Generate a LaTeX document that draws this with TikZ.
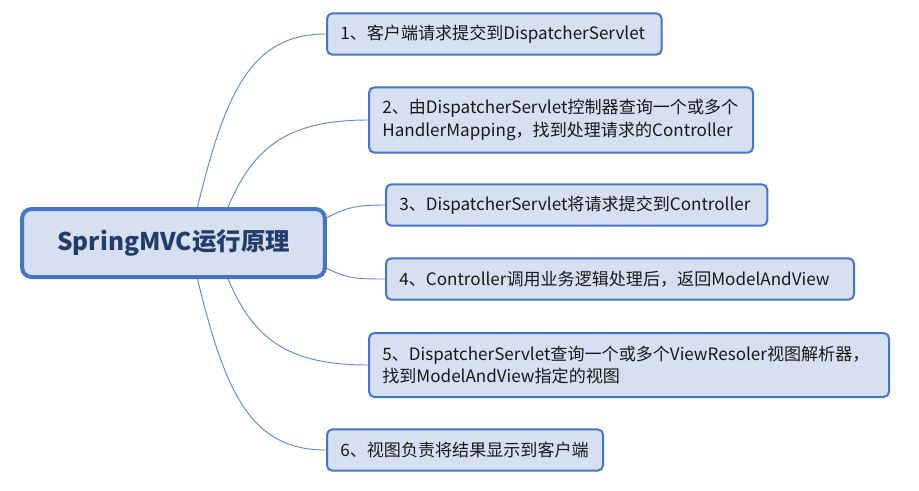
\documentclass[tikz,border=0pt]{standalone}
\usepackage{fontspec}
\usepackage{tikz}
\setmainfont{Noto Sans CJK SC}
\definecolor{mindback}{RGB}{214,224,240}
\definecolor{mindline}{RGB}{70,117,198}
\definecolor{mindlink}{RGB}{95,135,210}
\definecolor{mindtext}{RGB}{36,60,105}

\begin{document}
\begin{tikzpicture}[x=0.75pt,y=-0.75pt,
  root/.style={draw=mindline,line width=3pt,fill=mindback,rounded corners=7pt,
    minimum width=227pt,minimum height=51pt,text=mindtext,
    font=\fontsize{18.3}{22}\selectfont\bfseries},
  leaf/.style={draw=mindline,line width=1.5pt,fill=mindback,rounded corners=4pt,
    anchor=west,align=left,inner xsep=10pt,inner ysep=0pt,text=black!90,
    font=\fontsize{12.8}{17}\selectfont},
  link/.style={draw=mindlink,line width=0.7pt}]
\useasboundingbox (0,0) rectangle (919,490);

\node [root] (root) at (173.5,243) {SpringMVC运行原理};

\node [leaf,text width=231pt,minimum height=31pt] (s1) at (326,34)
  {1、客户端请求提交到DispatcherServlet};
\node [leaf,text width=268pt,minimum height=49pt] (s2) at (368,120)
  {2、由DispatcherServlet控制器查询一个或多个\\HandlerMapping，找到处理请求的Controller};
\node [leaf,text width=266pt,minimum height=31pt] (s3) at (385,205)
  {3、DispatcherServlet将请求提交到Controller};
\node [leaf,text width=331pt,minimum height=31pt] (s4) at (385,279)
  {4、Controller调用业务逻辑处理后，返回ModelAndView};
\node [leaf,text width=370pt,minimum height=48pt] (s5) at (368,365)
  {5、DispatcherServlet查询一个或多个ViewResoler视图解析器，\\找到ModelAndView指定的视图};
\node [leaf,text width=187pt,minimum height=31pt] (s6) at (326,450)
  {6、视图负责将结果显示到客户端};

% branches
\draw [link] ([xshift=18pt]root.north) .. controls +(28,-115) and +(-75,0) .. (s1.west);
\draw [link] ([xshift=41pt]root.north) .. controls +(25,-60) and +(-80,0) .. (s2.west);
\draw [link] ([yshift=19pt]root.east) .. controls +(20,-10) and +(-30,0) .. (s3.west);
\draw [link] ([yshift=-19pt]root.east) .. controls +(20,10) and +(-30,0) .. (s4.west);
\draw [link] ([xshift=41pt]root.south) .. controls +(25,60) and +(-80,0) .. (s5.west);
\draw [link] ([xshift=18pt]root.south) .. controls +(28,115) and +(-75,0) .. (s6.west);
\end{tikzpicture}
\end{document}
